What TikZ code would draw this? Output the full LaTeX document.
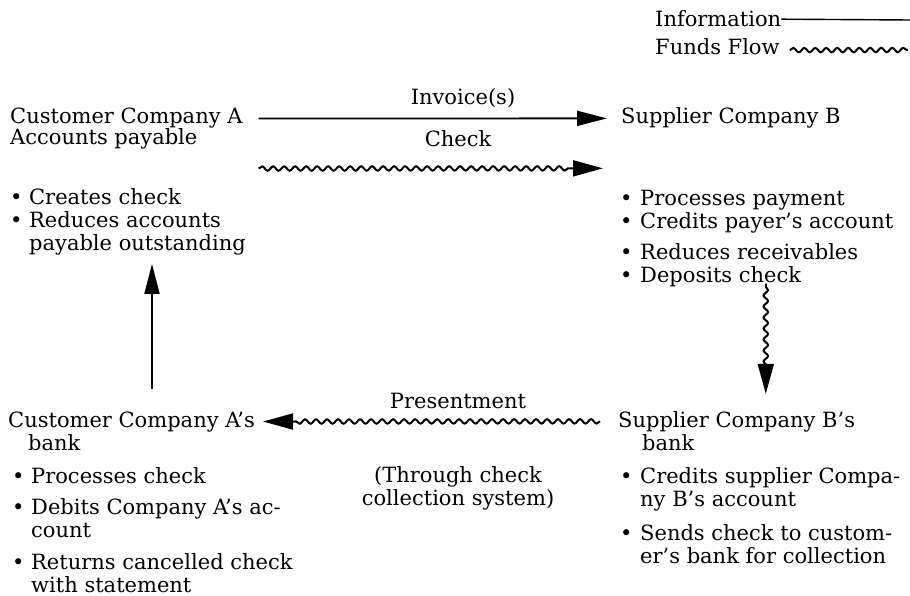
\documentclass[tikz,border=0pt]{standalone}
\usepackage{fontspec}
\setmainfont{DejaVu Serif}
\usetikzlibrary{arrows.meta,decorations.pathmorphing,positioning}

\tikzstyle{every node}+=[inner sep=0pt,anchor=base west,align=left]
\tikzstyle{info}=[line width=1.8pt,-{Triangle[length=30pt,width=15pt]}]
\tikzstyle{wave}=[decorate,decoration={snake,amplitude=2.2pt,segment length=11pt,post length=31pt}]
\tikzstyle{funds}=[wave,line width=2pt,-{Triangle[length=30pt,width=16pt]}]
\tikzstyle{fundsline}=[decorate,decoration={snake,amplitude=2.2pt,segment length=11pt},line width=2pt]

\newcommand{\blt}{\makebox[19pt][l]{\textbullet}}
\newcommand{\bltR}{\makebox[20pt][l]{\textbullet}}

\begin{document}
\begin{tikzpicture}[x=1pt,y=-1pt,font=\fontsize{21}{23}\selectfont]
\useasboundingbox (0,0) rectangle (910,596);

% legend
\node (info) at (655,27) {Information};
\node (funds) at (655,55) {Funds Flow};
\coordinate (infoend) at (910,20);
\coordinate (fundsend) at (908,50);
\draw[line width=1.4pt] (info.east) -- (infoend);
\draw[fundsline] ([xshift=10pt,yshift=-3pt]funds.east) -- (fundsend);

% company A (multi-line nodes sit on their last baseline)
\node (custA) at (10,124) {Customer Company A};
\node (custAsub) at (10,145) {Accounts payable};
\node (custAlist) at (10,250) {\blt Creates check\\ \blt Reduces accounts\\ \hspace*{19pt}payable outstanding};

% company B
\node (supB) at (621,124) {Supplier Company B};
\node (supBlist) at (620,282) {\bltR Processes payment\\ \bltR Credits payer's account\\[8pt] \bltR Reduces receivables\\ \bltR Deposits check};

\node[anchor=base] (inv) at (463,105) {Invoice(s)};
\node[anchor=base] (chk) at (458,147) {Check};
\draw[info] ([xshift=16pt]custA.east) -- ([xshift=-14pt]supB.west);
\draw[funds] ([xshift=16pt,yshift=-50pt]custA.east) -- ([xshift=-18pt,yshift=-50pt]supB.west);

% banks
\node (custBank) at (8,427) {Customer Company A's};
\node (custBanksub) at (28,450) {bank};
\node (custBanklist) at (12,592) {\blt Processes check\\[8pt] \blt Debits Company A's ac-\\ \hspace*{19pt}count\\[9pt] \blt Returns cancelled check\\ \hspace*{19pt}with statement};

\node (supBank) at (618,427) {Supplier Company B's};
\node (supBanksub) at (642,450) {bank};
\node (supBanklist) at (620,563) {\bltR Credits supplier Compa-\\ \hspace*{20pt}ny B's account\\[11pt] \bltR Sends check to custom-\\ \hspace*{20pt}er's bank for collection};

\node[anchor=base] (pres) at (458,408) {Presentment};
\node[anchor=base,align=center] (thru) at (458,505) {(Through check\\collection system)};

\draw[funds,shorten <=3pt,shorten >=17pt] ([xshift=9pt]supBlist.south) -- ([xshift=9pt]supBlist.south |- supBank.north);
\draw[funds] ([xshift=-18pt]supBank.west) -- ([xshift=8pt]custBank.east);
\draw[info,shorten <=22pt,shorten >=9pt] ([xshift=144pt]custBank.north west) -- ([xshift=142pt]custAlist.south west);

\end{tikzpicture}
\end{document}
